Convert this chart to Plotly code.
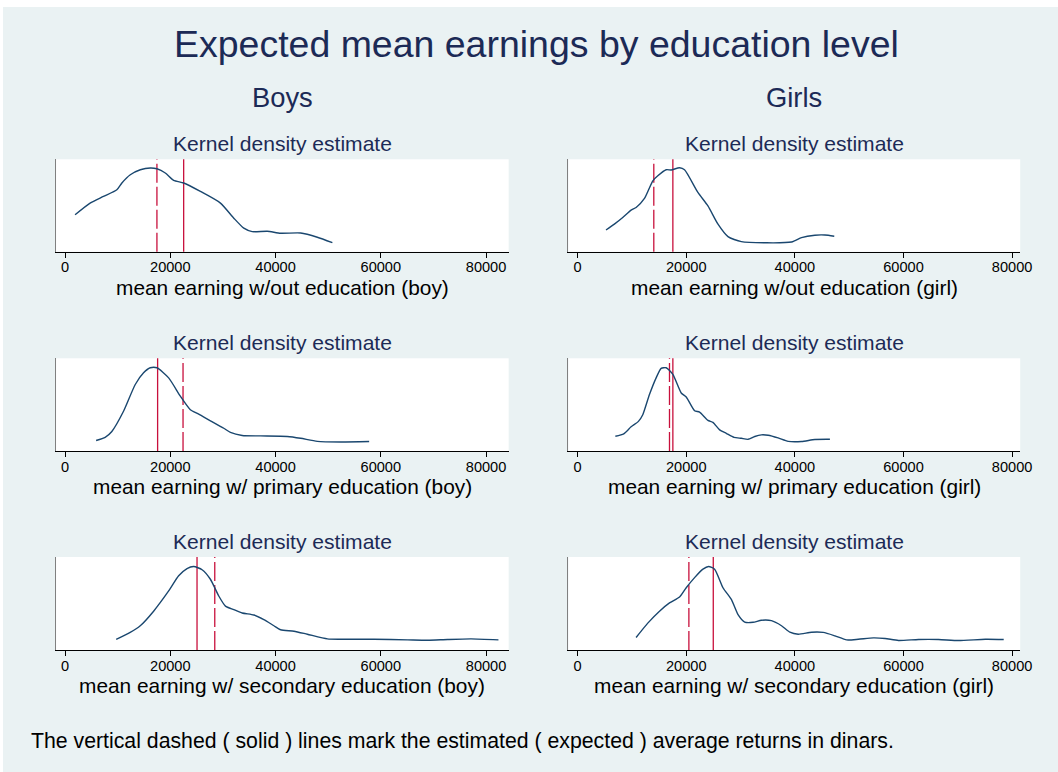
import plotly.graph_objects as go

# ---------------- data (kernel density estimates, density x 1e-5) ----------------
boy_none_x = [1905, 4760, 7300, 9840, 10800, 12400, 14300, 16200, 17460, 19050, 20640, 22540,
              25720, 29530, 32070, 33970, 35560, 38420, 40960, 44770, 47940, 50800]
boy_none_d = [1.84, 2.42, 2.75, 3.08, 3.42, 3.83, 4.08, 4.17, 4.13, 3.92, 3.55, 3.42,
              3.00, 2.42, 1.67, 1.17, 1.00, 1.02, 0.92, 0.93, 0.72, 0.45]

girl_none_x = [5230, 6770, 8310, 9850, 10770, 12310, 13850, 14770, 16310, 17230, 18770, 19690,
               22150, 24000, 25850, 27690, 30150, 39390, 41230, 43690, 45540, 47260]
girl_none_d = [1.08, 1.37, 1.70, 2.07, 2.20, 2.65, 3.53, 3.78, 4.08, 4.07, 4.18, 4.08,
               2.95, 2.28, 1.37, 0.75, 0.50, 0.48, 0.70, 0.82, 0.83, 0.77]

boy_prim_x = [5900, 7620, 8890, 11110, 13340, 14920, 16190, 17460, 19690, 21910, 23810, 25400,
              27620, 30160, 31430, 33660, 37150, 42230, 44770, 47940, 52390, 57790]
boy_prim_d = [0.52, 0.68, 0.97, 1.97, 3.30, 3.88, 4.13, 4.13, 3.63, 2.72, 2.05, 1.83,
              1.50, 1.13, 0.92, 0.77, 0.75, 0.72, 0.63, 0.48, 0.45, 0.47]

girl_prim_x = [6950, 8490, 9850, 11200, 12000, 13230, 14460, 15390, 16310, 17540, 19080, 20000,
               21540, 22460, 24000, 24920, 26150, 27380, 28800, 30150, 31380, 32620, 33850,
               35080, 36920, 38770, 41230, 43690, 46460]
girl_prim_d = [0.73, 0.85, 1.20, 1.47, 1.80, 2.80, 3.63, 4.10, 4.13, 3.80, 2.88, 2.68,
               2.00, 1.93, 1.52, 1.42, 1.05, 0.88, 0.68, 0.63, 0.58, 0.72, 0.80,
               0.78, 0.65, 0.48, 0.47, 0.57, 0.58]

boy_sec_x = [9720, 12380, 14290, 16830, 19690, 21590, 23180, 24450, 26040, 27620, 29210, 30480,
             32070, 33660, 35880, 37780, 39690, 40960, 43500, 46040, 49850, 52390, 58740,
             65090, 68900, 72710, 77150, 82360]
boy_sec_d = [0.53, 0.87, 1.20, 1.92, 2.92, 3.67, 4.03, 4.13, 3.97, 3.50, 2.67, 2.17,
             2.00, 1.83, 1.73, 1.50, 1.20, 1.00, 0.93, 0.78, 0.55, 0.53, 0.53,
             0.50, 0.48, 0.52, 0.55, 0.50]

girl_sec_x = [10770, 12920, 15080, 16920, 18770, 20000, 21540, 23080, 24120, 25230, 26770, 28310,
              29540, 30770, 32310, 33850, 35690, 37540, 39080, 40620, 43080, 45230, 47390,
              49540, 51690, 54460, 56620, 59080, 62770, 66460, 70150, 75080, 78460]
girl_sec_d = [0.62, 1.33, 1.92, 2.33, 2.62, 3.08, 3.58, 4.00, 4.13, 4.00, 3.08, 2.50,
              1.75, 1.38, 1.37, 1.47, 1.45, 1.20, 0.88, 0.78, 0.88, 0.87, 0.70,
              0.50, 0.53, 0.60, 0.57, 0.47, 0.52, 0.52, 0.47, 0.53, 0.52]

# estimated (dashed) and expected (solid) averages, dinars
estimated = [17460, 14030, 22420, 16920, 28450, 20490]
expected = [22540, 17540, 17590, 17540, 25080, 24980]

axis_titles = [
    "mean earning w/out education (boy)", "mean earning w/out education (girl)",
    "mean earning w/ primary education (boy)", "mean earning w/ primary education (girl)",
    "mean earning w/ secondary education (boy)", "mean earning w/ secondary education (girl)",
]
tick_vals = [0, 20000, 40000, 60000, 80000]
tick_text = ["0", "20000", "40000", "60000", "80000"]
column_titles = ["Boys", "Girls"]
panel_title = "Kernel density estimate"
main_title = "Expected mean earnings by education level"
footnote = "The vertical dashed ( solid ) lines mark the estimated ( expected ) average returns in dinars."

series_x = [boy_none_x, girl_none_x, boy_prim_x, girl_prim_x, boy_sec_x, girl_sec_x]
series_d = [boy_none_d, girl_none_d, boy_prim_d, girl_prim_d, boy_sec_d, girl_sec_d]

# ---------------- layout geometry (reference pixels) ----------------
REF_W, H = 1058, 772
K = 0.987                      # horizontal squeeze observed in the photographed page
W = round(REF_W / K)           # css width of the figure
FS = 1 / K                     # font width compensation
FONT = "Liberation Sans, Arial, Helvetica, sans-serif"
BG = "#eaf2f3"
NAVY = "#1a476f"
RED = "#c8103c"
TITLE_C = "#1c2a56"

col_px = [(56, 507.7), (567.3, 1018.3)]
row_px = [(159.3, 251.7), (358.3, 451.0), (557.0, 650.0)]
x_ranges = [(-1700, 84300), (-1700, 81500)]
y_range = (0, 4.6)


def px(p):
    return p / REF_W


def py(p):
    return 1 - p / H


fig = go.Figure()
annotations = []
shapes = []

for i in range(6):
    r, c = divmod(i, 2)
    sfx = "" if i == 0 else str(i + 1)
    xa, ya = "x" + sfx, "y" + sfx
    fig.add_trace(go.Scatter(x=series_x[i], y=series_d[i], mode="lines",
                             line=dict(color=NAVY, width=1.4, shape="spline", smoothing=0.6),
                             xaxis=xa, yaxis=ya, showlegend=False, hoverinfo="x+y"))
    x0, x1 = col_px[c]
    t, b = row_px[r]
    fig.layout["xaxis" + sfx] = dict(
        domain=[px(x0), px(x1)], anchor=ya, range=list(x_ranges[c]),
        showgrid=False, zeroline=False, showline=True, linecolor="#000000", linewidth=1,
        ticks="outside", ticklen=5, tickwidth=1, tickcolor="#000000",
        tickvals=tick_vals, ticktext=tick_text, ticklabelstandoff=-3,
        tickfont=dict(family=FONT, size=14.4 * FS, color="#000000"), fixedrange=True)
    fig.layout["yaxis" + sfx] = dict(
        domain=[py(b), py(t)], anchor=xa, range=list(y_range),
        showgrid=False, zeroline=False, showline=True, linecolor="#808080", linewidth=1.2,
        ticks="", showticklabels=False, fixedrange=True)
    shapes.append(dict(type="line", xref=xa, yref=ya + " domain", x0=estimated[i], x1=estimated[i],
                       y0=0, y1=1, line=dict(color=RED, width=1.3, dash="19px,4px"), layer="below"))
    shapes.append(dict(type="line", xref=xa, yref=ya + " domain", x0=expected[i], x1=expected[i],
                       y0=0, y1=1, line=dict(color=RED, width=1.3), layer="below"))
    cx = px((x0 + x1) / 2)
    annotations.append(dict(text=panel_title, x=cx, y=py(t - 16), xref="paper", yref="paper",
                            showarrow=False, xanchor="center", yanchor="middle",
                            font=dict(family=FONT, size=20.8 * FS, color=TITLE_C)))
    annotations.append(dict(text=axis_titles[i], x=cx, y=py(b + 35.5), xref="paper", yref="paper",
                            showarrow=False, xanchor="center", yanchor="middle",
                            font=dict(family=FONT, size=20.6 * FS, color="#000000")))

for c in range(2):
    x0, x1 = col_px[c]
    annotations.append(dict(text=column_titles[c], x=px((x0 + x1) / 2), y=py(97), xref="paper",
                            yref="paper", showarrow=False, xanchor="center", yanchor="middle",
                            font=dict(family=FONT, size=27 * FS, color=TITLE_C)))

annotations.append(dict(text=main_title, x=px(535), y=py(44), xref="paper", yref="paper",
                        showarrow=False, xanchor="center", yanchor="middle",
                        font=dict(family=FONT, size=37.0 * FS, color=TITLE_C)))
annotations.append(dict(text=footnote, x=px(29), y=py(741), xref="paper", yref="paper",
                        showarrow=False, xanchor="left", yanchor="middle",
                        font=dict(family=FONT, size=21.0 * FS, color="#000000")))

# thin white frame strip at top and left edges of the image
shapes.append(dict(type="rect", xref="paper", yref="paper", x0=0, x1=1, y0=py(7), y1=1,
                   fillcolor="#ffffff", line=dict(width=0), layer="below"))
shapes.append(dict(type="rect", xref="paper", yref="paper", x0=0, x1=px(3), y0=0, y1=1,
                   fillcolor="#ffffff", line=dict(width=0), layer="below"))

fig.update_layout(width=W, height=H, margin=dict(l=0, r=0, t=0, b=0),
                  paper_bgcolor=BG, plot_bgcolor="#ffffff",
                  annotations=annotations, shapes=shapes, showlegend=False,
                  font=dict(family=FONT))

fig.write_html("out.html", config={"displayModeBar": False},
               post_script="document.body.style.margin='0px';document.body.style.overflow='hidden';")
